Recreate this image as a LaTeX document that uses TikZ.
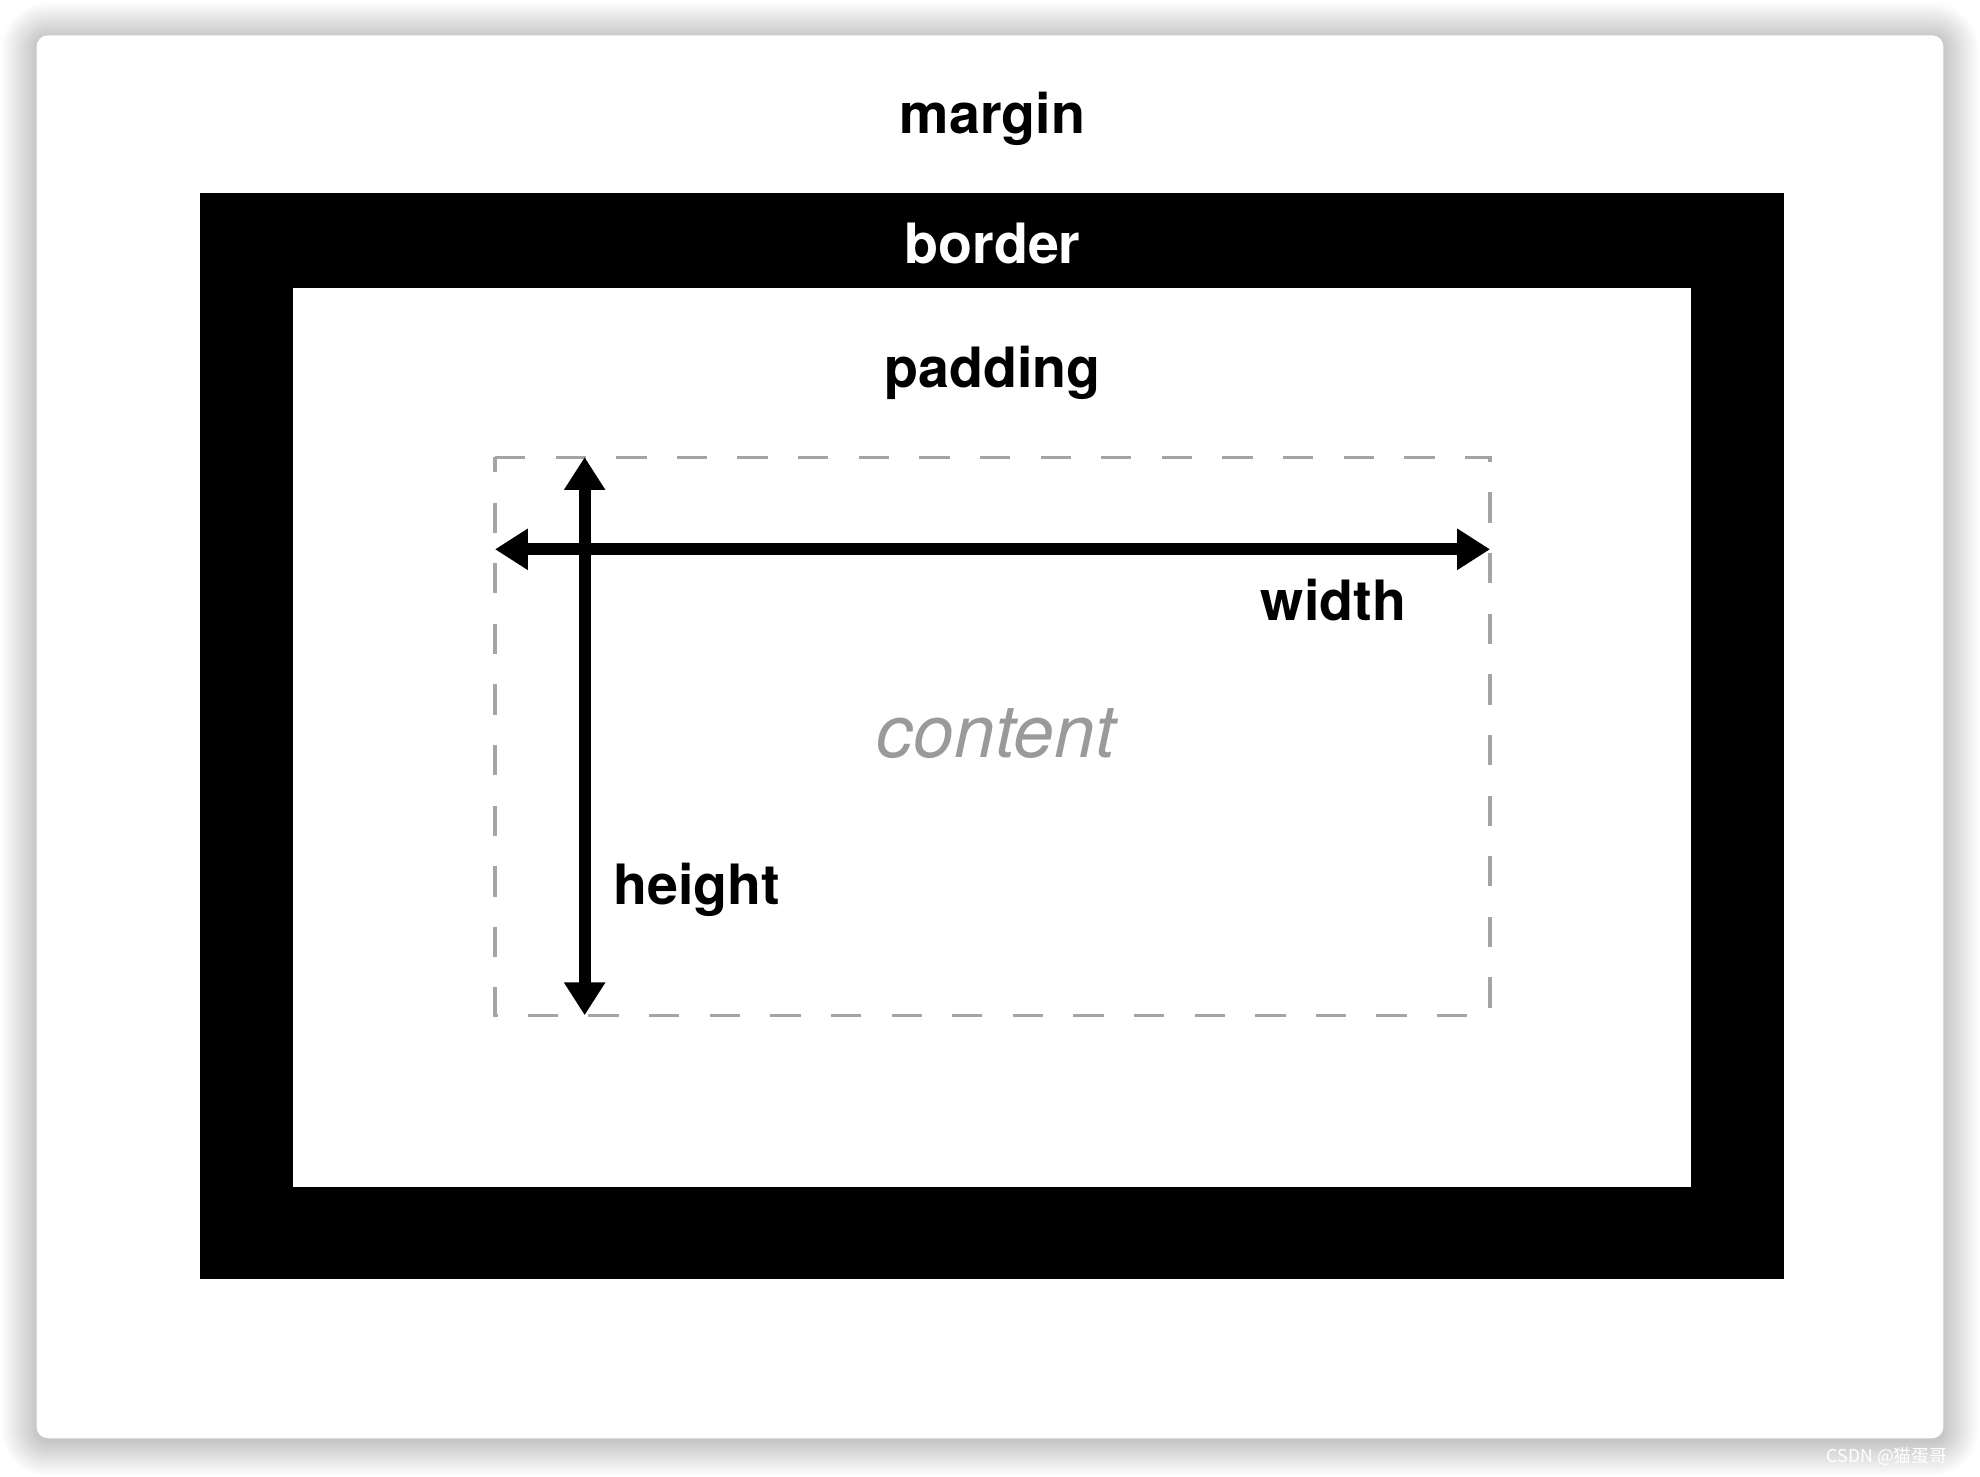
\documentclass[tikz,border=0pt]{standalone}
\usepackage{fontspec}
\setmainfont{TeX Gyre Heros}
\newfontfamily\cjkfont{Noto Sans CJK SC}
\usetikzlibrary{arrows.meta}
\definecolor{dashgray}{HTML}{A4A4A4}
\definecolor{contentgray}{HTML}{9A9A9A}
\begin{document}
\begin{tikzpicture}[x=1pt,y=-1pt,
  lbl/.style={font=\fontsize{44}{50}\selectfont\bfseries, anchor=base, inner sep=0pt},
  dimarrow/.style={line width=9.5pt, {Triangle[length=26pt,width=31pt]}-{Triangle[length=26pt,width=31pt]}},
  dashbox/.style={draw=dashgray, line width=2.5pt, dash pattern=on 24pt off 24pt, dash phase=12pt}
]
\useasboundingbox (0,0) rectangle (1568,1169);
\fill[white] (0,0) rectangle (1568,1169);
% soft shadow around the card
\foreach \i in {1,...,28}{
  \fill[black, opacity=0.0065, rounded corners={9pt+\i pt}] (29-\i,28-\i+2) rectangle (1539+\i,1139+\i+2);
}
% card
\fill[white, rounded corners=9pt] (29,28) rectangle (1539,1139);
% border
\fill[black] (158,153) rectangle (1413,1013);
\fill[white] (232,228) rectangle (1339,940);
% content box
\draw[dashbox] (392,362) rectangle (1180,804);
% dimension arrows
\coordinate (wl) at (392,435);
\coordinate (wr) at (1180,435);
\coordinate (ht) at (463,362);
\coordinate (hb) at (463,804);
\draw[dimarrow] (wl) -- (wr);
\draw[dimarrow] (ht) -- (hb);
% labels
\node[lbl] (margin) at (786,106) {margin};
\node[lbl, text=white] (border) at (786,209) {border};
\node[lbl] (padding) at (786,307) {padding};
\node[lbl] (width) at (1056,491) {width};
\node[lbl] (height) at (552,716) {height};
\node[font=\fontsize{58}{64}\selectfont\itshape, text=contentgray, anchor=base, inner sep=0pt] (content) at (789,600) {content};
\node[font=\cjkfont\fontsize{14}{16}\selectfont, text=white, anchor=base east, inner sep=0pt] (wm) at (1542,1158) {CSDN @猫蛋哥};
\end{tikzpicture}
\end{document}
